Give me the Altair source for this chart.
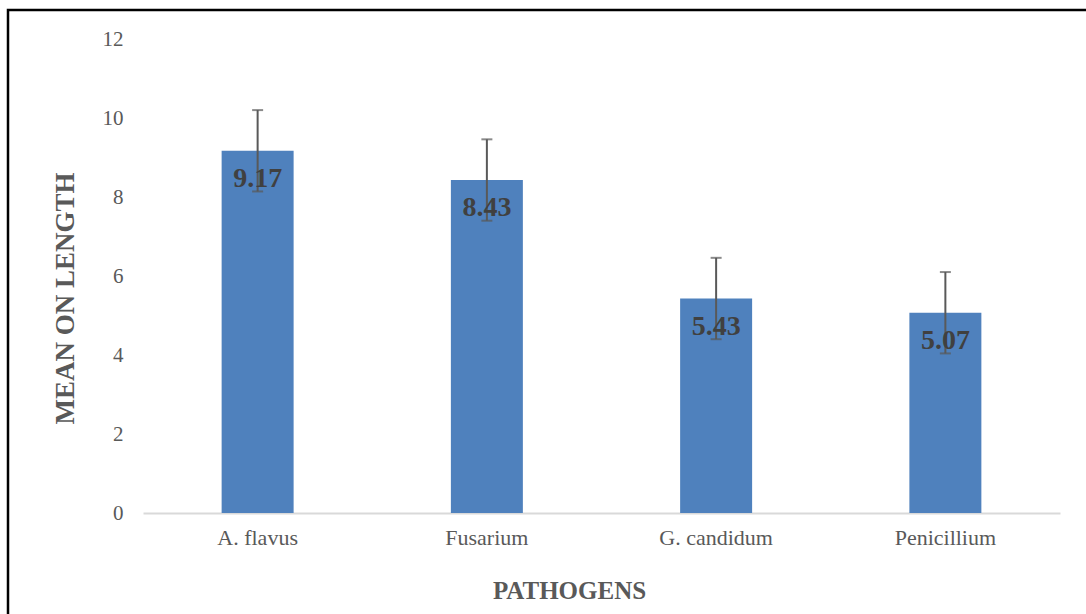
import altair as alt
import pandas as pd

categories = ["A. flavus", "Fusarium", "G. candidum", "Penicillium"]
means = [9.17, 8.43, 5.43, 5.07]
errors = [1.03, 1.03, 1.03, 1.03]

df = pd.DataFrame({
    "cat": categories,
    "mean": means,
    "lo": [m - e for m, e in zip(means, errors)],
    "hi": [m + e for m, e in zip(means, errors)],
    "label": [f"{m:.2f}" for m in means],
})

FONT = "Liberation Serif, Times New Roman, serif"

x = alt.X("cat:N", sort=categories,
          scale=alt.Scale(paddingInner=0.686, paddingOuter=0.343),
          axis=alt.Axis(title="PATHOGENS", labelAngle=0, labelFont=FONT, labelFontSize=22,
                        labelColor="#595959", labelPadding=14, ticks=False,
                        domainColor="#d9d9d9", domainWidth=2,
                        titleFont=FONT, titleFontSize=25, titleFontWeight="bold",
                        titleColor="#595959", titleX=426, titleY=77,
                        titleAlign="center", titleBaseline="middle"))

y = alt.Y("mean:Q", scale=alt.Scale(domain=[0, 12]),
          axis=alt.Axis(title="MEAN ON LENGTH", values=[0, 2, 4, 6, 8, 10, 12],
                        grid=False, domain=False, ticks=False,
                        labelFont=FONT, labelFontSize=21, labelColor="#595959",
                        labelPadding=20,
                        titleFont=FONT, titleFontSize=27, titleFontWeight="bold",
                        titleColor="#595959", titleX=-78, titleY=259, titleAngle=270,
                        titleAlign="center", titleBaseline="middle"))

base = alt.Chart(df)

bars = base.mark_bar(color="#4f81bd").encode(x=x, y=y)

err = base.mark_rule(color="#595959", strokeWidth=2).encode(
    x=alt.X("cat:N", sort=categories), y="lo:Q", y2="hi:Q")

cap_lo = base.mark_tick(color="#595959", thickness=2, size=11, orient="horizontal").encode(
    x=alt.X("cat:N", sort=categories), y="lo:Q")
cap_hi = base.mark_tick(color="#595959", thickness=2, size=11, orient="horizontal").encode(
    x=alt.X("cat:N", sort=categories), y="hi:Q")

labels = base.mark_text(font=FONT, fontSize=28, fontWeight="bold", color="#404040",
                        baseline="middle", align="center", dy=28).encode(
    x=alt.X("cat:N", sort=categories), y="mean:Q", text="label:N")

frame = alt.Chart(pd.DataFrame({"a": [0]})).mark_rect(
    fill=None, stroke="#000000", strokeWidth=2.5).encode(
    x=alt.value(-135), x2=alt.value(950), y=alt.value(-29), y2=alt.value(590))

chart = alt.layer(bars, err, cap_lo, cap_hi, labels, frame).properties(
    width=917, height=474,
    autosize=alt.AutoSizeParams(type="none"),
    padding={"left": 143, "top": 39, "right": 26, "bottom": 101},
    background="white",
).configure(font=FONT).configure_view(stroke=None)

chart.save("out.html", embed_options={"renderer": "svg", "actions": False})
